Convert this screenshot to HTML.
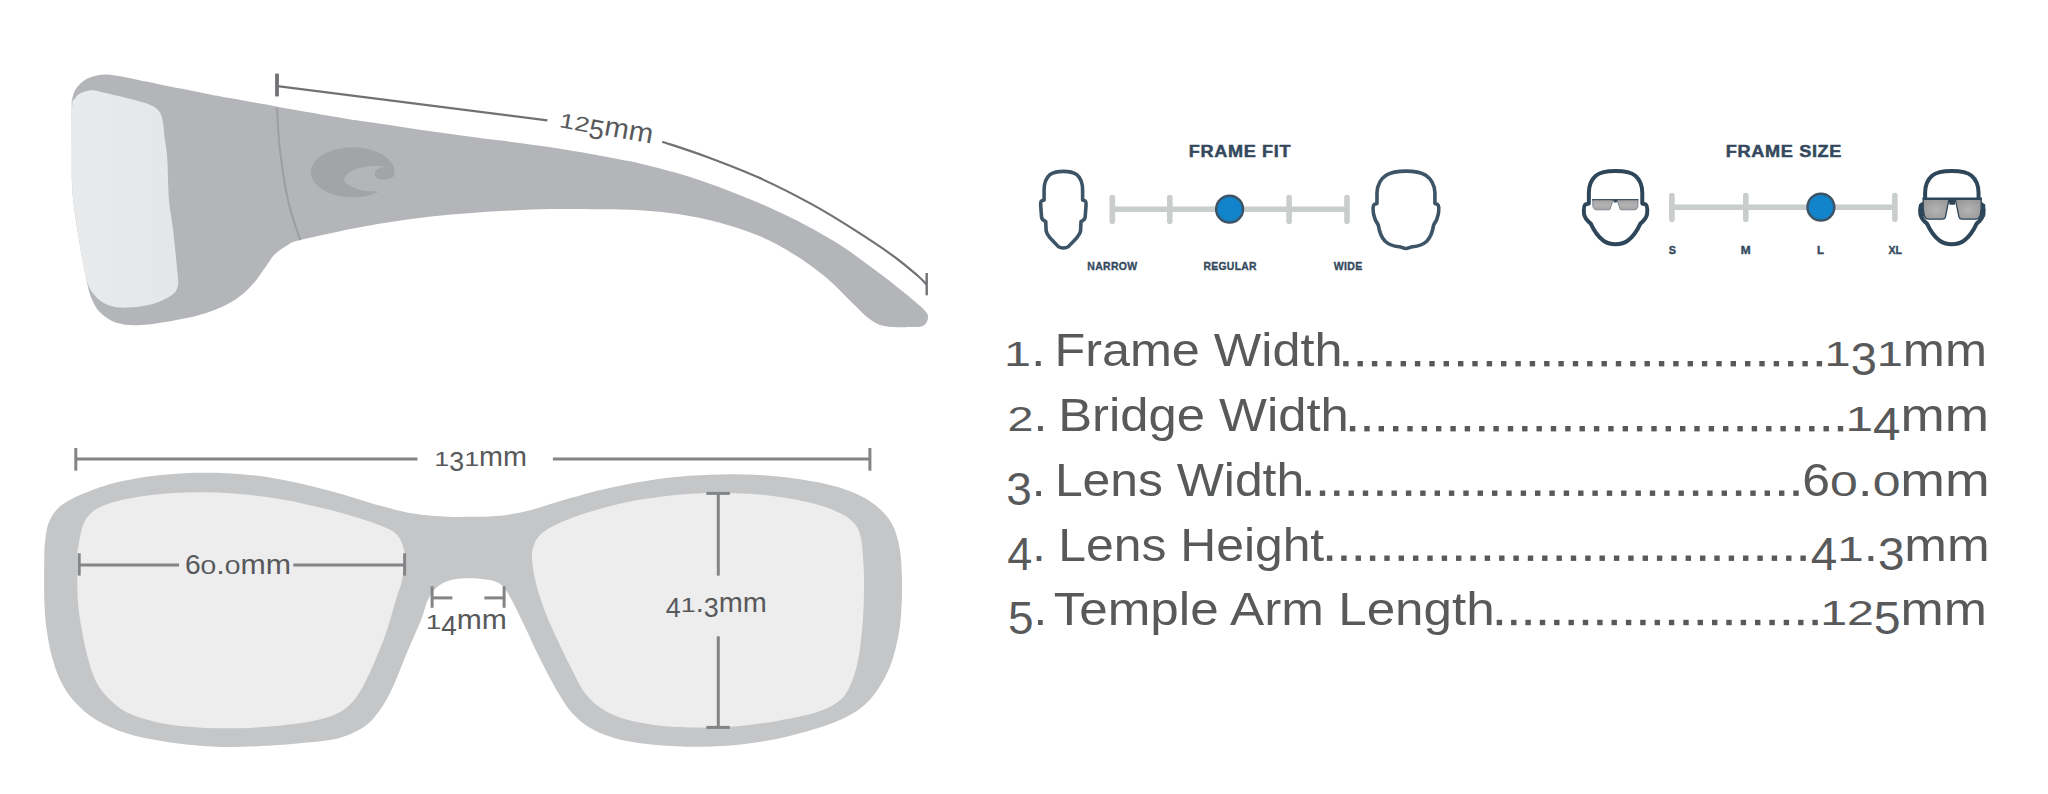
<!DOCTYPE html>
<html><head><meta charset="utf-8"><title>Frame dimensions</title>
<style>
html,body{margin:0;padding:0;background:#fff;}
body{width:2048px;height:794px;overflow:hidden;font-family:"Liberation Sans",sans-serif;}
svg{display:block;position:absolute;left:0;top:0;}
text{font-family:"Liberation Sans",sans-serif;}
</style></head><body>
<svg width="2048" height="794" viewBox="0 0 2048 794">
<defs>
<linearGradient id="lg1" x1="0" y1="0" x2="1" y2="1"><stop offset="0" stop-color="#8f9193"/><stop offset="0.55" stop-color="#b9babb"/><stop offset="1" stop-color="#97999b"/></linearGradient>
<linearGradient id="sideLens" x1="0" y1="0" x2="1" y2="0"><stop offset="0" stop-color="#e9eaeb"/><stop offset="1" stop-color="#e5e6e7"/></linearGradient>
<linearGradient id="lg2" x1="0" y1="0" x2="0" y2="1"><stop offset="0" stop-color="#a2a2a4"/><stop offset="0.55" stop-color="#b4b2b2"/><stop offset="1" stop-color="#a4a5a7"/></linearGradient>
<radialGradient id="lg3" cx="0.5" cy="0.55" r="0.75"><stop offset="0" stop-color="#b4b3b3"/><stop offset="1" stop-color="#929395"/></radialGradient>
</defs>
<rect width="2048" height="794" fill="#ffffff"/>

<!-- SIDE VIEW -->
<path d="M71.7,105.4 C71.8,96.9 71.7,101.4 72.2,99.1 C72.7,96.8 73.4,93.8 74.6,91.3 C75.8,88.8 77.4,86.5 79.5,84.4 C81.6,82.3 84.4,80.1 87.3,78.6 C90.2,77.1 93.8,76.1 97.1,75.4 C100.4,74.7 103.3,74.5 106.9,74.6 C110.5,74.7 113.4,75.2 118.6,76.1 C123.8,77.0 131.6,78.7 138.1,80.0 C144.6,81.3 150.4,82.4 157.7,83.9 C165.0,85.4 174.0,87.2 182.1,88.8 C190.2,90.4 198.4,92.1 206.5,93.7 C214.6,95.3 222.0,96.7 230.9,98.3 C239.8,99.9 252.4,102.2 260.0,103.5 C267.6,104.8 268.2,104.9 276.6,106.4 C285.0,107.9 301.4,111.0 310.3,112.6 C319.2,114.2 323.3,115.0 330.0,116.1 C336.7,117.2 342.5,118.2 350.6,119.4 C358.7,120.6 366.0,121.5 378.8,123.4 C391.6,125.3 411.4,128.4 427.7,130.8 C444.0,133.2 462.5,135.7 476.5,137.6 C490.5,139.5 499.2,140.3 511.8,142.0 C524.4,143.7 538.7,145.5 552.1,147.6 C565.5,149.7 581.1,152.3 592.4,154.3 C603.7,156.3 612.1,158.0 620.0,159.5 C627.9,161.0 629.8,161.0 639.7,163.4 C649.6,165.8 666.2,169.8 679.4,173.7 C692.6,177.6 705.8,182.1 719.0,186.9 C732.2,191.8 745.5,197.1 758.7,202.8 C771.9,208.5 785.2,214.5 798.4,221.3 C811.6,228.1 827.1,237.0 838.1,243.8 C849.1,250.6 855.8,255.9 864.6,262.3 C873.4,268.7 883.1,275.9 891.0,282.1 C898.9,288.3 906.5,294.5 912.2,299.3 C917.9,304.1 922.8,308.1 925.4,311.2 C928.0,314.3 928.2,315.5 928.0,317.8 C927.8,320.1 926.7,323.6 924.1,325.2 C921.5,326.8 918.6,326.9 912.2,327.1 C905.8,327.3 892.8,327.6 885.7,326.3 C878.6,325.0 875.1,322.8 869.8,319.2 C864.5,315.6 860.2,310.6 854.0,304.6 C847.8,298.6 839.9,289.8 832.8,283.4 C825.7,277.0 819.5,271.9 811.6,266.2 C803.7,260.5 794.0,254.1 785.2,249.0 C776.4,243.9 769.7,240.2 758.7,235.8 C747.7,231.4 732.2,226.2 719.0,222.6 C705.8,219.0 692.6,216.4 679.4,214.3 C666.2,212.2 652.9,211.0 639.7,210.2 C626.5,209.3 614.6,209.4 600.0,209.2 C585.4,209.0 566.8,208.8 552.1,209.0 C537.4,209.2 525.2,209.8 511.8,210.5 C498.4,211.2 484.9,211.9 471.5,212.9 C458.1,213.9 444.6,215.0 431.2,216.5 C417.8,218.0 404.3,219.9 390.9,222.0 C377.5,224.1 365.7,226.0 350.6,229.0 C335.5,232.0 310.6,237.5 300.2,240.1 C289.8,242.7 292.6,242.3 288.3,244.7 C284.0,247.1 278.5,250.6 274.6,254.5 C270.7,258.4 268.4,263.2 264.8,268.1 C261.2,273.0 258.0,278.6 253.1,283.8 C248.2,289.0 243.3,294.5 235.5,299.4 C227.7,304.3 217.7,309.3 206.3,313.0 C194.9,316.7 178.6,319.8 167.2,321.8 C155.8,323.8 146.4,325.0 137.9,325.2 C129.4,325.4 122.6,324.8 116.4,322.8 C110.2,320.8 104.9,316.9 100.8,313.0 C96.7,309.1 94.5,305.2 92.0,299.4 C89.5,293.6 88.5,289.7 86.1,278.0 C83.6,266.3 79.6,243.7 77.3,229.0 C75.0,214.3 73.2,203.2 72.3,190.0 C71.4,176.8 71.9,164.1 71.8,150.0 C71.7,135.9 71.6,113.9 71.7,105.4Z" fill="#b4b5b8"/>
<path d="M72.2,105.4 C72.7,96.9 73.4,101.0 74.6,99.1 C75.8,97.1 77.0,95.1 79.5,93.7 C82.0,92.3 86.0,90.9 89.3,90.5 C92.6,90.1 94.2,90.5 99.1,91.4 C104.0,92.3 112.1,94.5 118.6,96.1 C125.1,97.7 133.2,99.7 138.1,101.0 C143.0,102.3 145.0,102.8 147.9,103.9 C150.8,105.1 153.6,106.3 155.7,107.9 C157.8,109.5 159.4,111.3 160.6,113.7 C161.8,116.1 162.4,119.0 163.0,122.5 C163.6,126.0 163.6,129.1 164.3,135.0 C165.0,140.9 166.4,146.9 167.2,157.7 C168.0,168.5 168.0,188.1 169.0,200.0 C170.0,211.9 171.7,217.7 173.0,229.0 C174.3,240.3 176.2,258.6 177.0,268.0 C177.8,277.4 178.9,281.1 177.9,285.7 C176.9,290.3 175.5,292.4 171.1,295.5 C166.7,298.6 158.8,302.3 151.6,304.3 C144.4,306.3 135.3,307.5 128.1,307.6 C120.9,307.8 114.1,307.2 108.6,305.2 C103.1,303.2 98.7,300.0 94.9,295.5 C91.2,291.0 89.0,289.1 86.1,278.0 C83.2,266.9 79.6,243.7 77.3,229.0 C75.0,214.3 73.2,203.2 72.3,190.0 C71.4,176.8 71.8,164.1 71.8,150.0 C71.8,135.9 71.7,113.9 72.2,105.4Z" fill="url(#sideLens)"/>
<path d="M277.0,108.0 C277.5,115.1 278.1,134.9 280.0,150.4 C281.9,165.9 284.7,185.9 288.1,200.8 C291.5,215.8 298.2,233.6 300.2,240.1" fill="none" stroke="#9c9ea1" stroke-width="2"/>
<g id="logo">
<ellipse cx="352.7" cy="172.3" rx="42" ry="25" fill="#a2a5a7"/>
<path d="M 344.20 180.10 C 344.20 176.42 348.94 172.08 354.02 169.87 C 360.57 167.17 369.57 166.03 375.30 166.03 C 379.39 166.03 383.48 166.35 385.94 166.85 C 383.48 167.01 381.03 167.50 379.39 168.24 C 376.94 169.30 375.14 170.69 374.89 172.33 C 374.48 174.78 375.30 176.99 377.34 178.30 C 378.98 179.29 381.03 179.61 382.66 179.53 C 385.12 179.45 387.58 179.12 389.21 178.63 C 391.26 177.98 392.90 176.99 394.12 176.01 L 396.58 178.47 L 392.08 186.24 L 381.85 191.56 C 378.98 191.73 376.12 191.56 373.66 191.32 C 370.80 191.24 367.93 191.15 365.48 190.91 C 362.20 190.42 359.75 189.93 357.29 189.11 C 354.43 188.13 351.97 187.06 349.93 185.83 C 347.88 184.61 346.49 183.71 345.51 182.72 C 344.69 181.91 344.20 181.09 344.20 180.10 Z" fill="#b4b5b8"/>
</g>
<g stroke="#707174" fill="none">
<line x1="277" y1="73.6" x2="277" y2="96.4" stroke-width="3.8"/>
<line x1="277.5" y1="86.1" x2="547.4" y2="120.3" stroke-width="2.3"/>
<path d="M662.2,141.7 C669.5,144.2 689.7,150.5 705.8,156.5 C721.9,162.5 741.1,169.7 758.7,177.6 C776.3,185.5 796.2,195.7 811.6,204.1 C827.0,212.5 838.1,219.5 851.3,227.9 C864.5,236.3 880.0,246.4 891.0,254.3 C902.0,262.2 911.5,270.4 917.5,275.5 C923.5,280.6 925.2,283.2 926.7,284.8" stroke-width="2.2"/>
<line x1="926.7" y1="273" x2="926.7" y2="295.3" stroke-width="2.4"/>
</g>
<g transform="translate(560.5,127.4) rotate(10.1)" fill="#58595b"><text transform="translate(-2.08,0.00) scale(0.975,0.735)" font-size="28.0">1</text><text transform="translate(13.11,0.00) scale(0.975,0.735)" font-size="28.0">2</text><text transform="translate(28.30,5.32) scale(0.975,0.980)" font-size="28.0">5</text><text x="43.49" y="0.00" font-size="28.0" textLength="48.92" lengthAdjust="spacingAndGlyphs">mm</text>
</g>

<!-- FRONT VIEW -->
<path d="M44.3,558.9 C44.4,549.5 44.3,549.0 44.9,543.5 C45.5,538.0 46.0,531.0 47.6,525.9 C49.2,520.8 51.3,516.6 54.2,512.7 C57.1,508.9 60.1,506.1 65.2,502.8 C70.3,499.5 76.1,496.5 84.9,493.0 C93.7,489.5 105.1,485.0 117.9,482.0 C130.7,479.0 147.2,476.4 161.8,474.9 C176.5,473.3 191.2,472.7 205.8,472.7 C220.5,472.7 235.0,473.3 249.7,474.9 C264.3,476.4 279.0,479.0 293.7,482.0 C308.4,485.0 323.0,489.0 337.6,493.0 C352.2,497.0 368.8,502.6 381.6,506.1 C394.4,509.6 403.5,512.0 414.5,513.8 C425.5,515.6 438.2,516.2 447.5,516.7 C456.8,517.2 461.9,516.8 470.0,516.7 C478.1,516.6 487.2,516.9 496.4,516.0 C505.5,515.1 514.6,514.0 524.9,511.6 C535.1,509.2 545.1,505.4 557.9,501.7 C570.7,498.0 587.1,493.2 601.8,489.7 C616.4,486.2 631.1,483.2 645.8,480.9 C660.4,478.6 675.1,476.9 689.7,475.8 C704.4,474.7 719.1,474.2 733.7,474.3 C748.4,474.4 763.0,475.0 777.6,476.5 C792.2,478.0 808.8,480.4 821.6,483.1 C834.4,485.9 845.4,489.2 854.5,493.0 C863.6,496.8 870.3,501.0 876.5,506.1 C882.7,511.2 888.0,516.7 891.9,523.7 C895.8,530.7 898.0,539.5 899.6,547.9 C901.2,556.3 901.4,565.6 901.8,574.3 C902.2,583.0 902.2,591.0 901.8,600.0 C901.4,609.0 901.2,618.4 899.6,628.6 C898.0,638.9 895.4,651.6 891.9,661.5 C888.4,671.4 883.8,680.2 878.7,687.9 C873.6,695.6 868.8,701.9 861.1,707.7 C853.4,713.6 844.7,718.2 832.6,723.0 C820.5,727.8 803.2,732.7 788.6,736.2 C774.0,739.7 759.4,742.1 744.7,743.9 C730.1,745.7 715.4,746.6 700.7,746.8 C686.1,747.0 670.3,746.2 656.8,745.0 C643.2,743.8 630.0,742.1 619.4,739.5 C608.8,736.9 600.7,733.8 593.0,729.6 C585.3,725.4 579.1,720.5 573.3,714.3 C567.4,708.1 563.4,701.5 557.9,692.3 C552.4,683.1 546.2,671.0 540.3,659.3 C534.4,647.6 527.5,631.9 522.7,622.0 C517.9,612.1 514.6,605.4 511.7,600.0 C508.8,594.6 507.4,592.4 505.2,589.6 C503.0,586.8 501.5,584.6 498.6,583.0 C495.7,581.4 492.4,580.6 487.6,579.8 C482.8,579.0 475.9,578.3 470.0,578.3 C464.1,578.3 457.5,578.3 451.9,579.8 C446.3,581.3 440.5,583.9 436.5,587.4 C432.5,590.9 430.3,595.2 427.7,600.6 C425.1,606.0 424.4,611.7 421.1,620.0 C417.8,628.3 413.0,638.5 407.9,650.5 C402.8,662.5 395.9,681.3 390.4,692.3 C384.9,703.3 380.1,710.3 375.0,716.5 C369.9,722.7 365.8,726.0 359.6,729.6 C353.4,733.2 346.8,736.2 337.6,738.4 C328.5,740.6 317.5,741.5 304.7,742.8 C291.9,744.1 275.3,745.4 260.7,746.1 C246.0,746.8 231.5,747.3 216.8,746.8 C202.2,746.2 187.5,744.9 172.8,742.8 C158.2,740.7 141.7,737.8 128.9,734.0 C116.1,730.2 105.1,725.3 95.9,719.8 C86.7,714.3 79.8,707.5 73.9,701.1 C68.1,694.7 64.5,688.6 60.8,681.3 C57.1,674.0 54.4,665.9 52.0,657.1 C49.6,648.3 47.8,638.1 46.5,628.6 C45.2,619.1 44.7,611.6 44.3,600.0 C43.9,588.4 44.2,568.3 44.3,558.9Z" fill="#c5c6c8"/>
<path d="M77.2,558.9 C77.3,549.5 77.9,549.0 78.8,543.5 C79.7,538.0 81.0,530.7 82.7,525.9 C84.5,521.1 86.0,518.2 89.3,514.9 C92.6,511.6 95.9,508.8 102.5,506.1 C109.1,503.4 117.2,500.7 128.9,498.5 C140.6,496.3 158.2,494.0 172.8,493.0 C187.5,492.0 202.2,491.9 216.8,492.5 C231.5,493.1 246.0,494.4 260.7,496.3 C275.3,498.2 290.0,500.8 304.7,503.9 C319.4,507.0 335.8,511.2 348.6,514.9 C361.4,518.6 373.5,522.6 381.6,525.9 C389.7,529.2 393.4,531.0 397.0,534.7 C400.6,538.4 402.2,543.1 403.5,547.9 C404.8,552.7 405.0,557.4 404.6,563.3 C404.2,569.1 402.8,576.9 401.3,583.0 C399.9,589.1 398.4,591.7 395.9,600.0 C393.3,608.3 389.9,622.0 386.0,633.0 C382.1,644.0 377.2,656.0 372.8,665.9 C368.4,675.8 364.0,685.3 359.6,692.3 C355.2,699.3 351.9,703.5 346.4,707.7 C340.9,711.9 335.4,714.9 326.6,717.6 C317.8,720.3 306.5,722.4 293.7,724.1 C280.9,725.8 264.3,727.3 249.7,727.9 C235.0,728.5 219.7,728.5 205.8,727.9 C191.9,727.3 178.6,726.4 166.2,724.1 C153.8,721.8 140.6,718.5 131.1,714.3 C121.6,710.1 115.0,704.4 109.1,698.9 C103.2,693.4 99.5,688.3 95.9,681.3 C92.3,674.3 90.0,665.9 87.6,657.1 C85.2,648.3 83.2,638.1 81.6,628.6 C80.0,619.1 78.6,611.6 77.9,600.0 C77.2,588.4 77.1,568.3 77.2,558.9Z" fill="#ededee"/>
<path d="M532.0,556.7 C531.8,551.2 532.3,549.4 533.7,545.7 C535.1,542.0 536.3,538.4 540.3,534.7 C544.3,531.0 549.5,527.6 557.9,523.7 C566.3,519.9 578.1,515.5 590.9,511.6 C603.7,507.8 620.2,503.4 634.8,500.6 C649.4,497.8 664.8,496.0 678.7,494.7 C692.6,493.4 703.6,492.9 718.3,493.0 C732.9,493.1 751.2,493.6 766.6,495.2 C782.0,496.8 798.5,499.9 810.6,502.8 C822.7,505.7 831.8,509.2 839.1,512.7 C846.4,516.2 850.8,519.3 854.5,523.7 C858.2,528.1 859.6,531.4 861.1,539.1 C862.6,546.8 863.3,559.8 863.8,569.9 C864.2,580.0 864.1,590.2 863.8,600.0 C863.5,609.8 863.2,618.4 862.2,628.6 C861.2,638.9 859.8,652.0 857.8,661.5 C855.8,671.0 853.2,679.1 850.1,685.7 C847.0,692.3 844.6,696.7 839.1,701.1 C833.6,705.5 827.5,708.8 817.2,712.1 C807.0,715.4 791.5,718.5 777.6,720.9 C763.7,723.3 748.4,725.3 733.7,726.4 C719.1,727.5 702.5,727.7 689.7,727.5 C676.9,727.3 667.8,726.8 656.8,725.3 C645.8,723.8 633.0,721.5 623.8,718.7 C614.6,716.0 608.4,713.2 601.8,708.8 C595.2,704.4 589.4,699.1 584.3,692.3 C579.2,685.5 575.7,677.1 571.1,668.1 C566.5,659.1 560.4,646.2 556.5,638.0 C552.6,629.8 550.6,625.3 548.0,619.0 C545.4,612.7 543.2,606.7 541.0,600.0 C538.8,593.3 536.5,586.2 535.0,579.0 C533.5,571.8 532.2,562.2 532.0,556.7Z" fill="#ededee"/>
<g stroke="#838486" stroke-width="3" fill="none">
<line x1="75.8" y1="448" x2="75.8" y2="470.7"/><line x1="75.8" y1="459.1" x2="417.5" y2="459.1"/>
<line x1="552.9" y1="459.1" x2="869.9" y2="459.1"/><line x1="869.9" y1="448" x2="869.9" y2="470.7"/>
<line x1="79.2" y1="553.3" x2="79.2" y2="575.6"/><line x1="79.2" y1="564.9" x2="179" y2="564.9"/>
<line x1="293.3" y1="564.9" x2="404.6" y2="564.9"/><line x1="404.6" y1="553.3" x2="404.6" y2="575.6"/>
<line x1="432.1" y1="586.3" x2="432.1" y2="607.8"/><line x1="432.1" y1="597.9" x2="452.3" y2="597.9"/>
<line x1="484.4" y1="597.9" x2="504.1" y2="597.9"/><line x1="504.1" y1="586.3" x2="504.1" y2="607.8"/>
<line x1="706.3" y1="493.4" x2="729.8" y2="493.4"/><line x1="718.3" y1="493.4" x2="718.3" y2="575.6"/>
<line x1="718.3" y1="636.3" x2="718.3" y2="727.4"/><line x1="706.3" y1="727.4" x2="729.8" y2="727.4"/>
</g>
<g fill="#58595b">
<text transform="translate(434.37,466.00) scale(0.956,0.735)" font-size="28.0">1</text><text transform="translate(449.25,471.32) scale(0.956,0.980)" font-size="28.0">3</text><text transform="translate(464.14,466.00) scale(0.956,0.735)" font-size="28.0">1</text><text x="479.02" y="466.00" font-size="28.0" textLength="47.95" lengthAdjust="spacingAndGlyphs">mm</text>
<text transform="translate(184.89,573.50) scale(1.008,1.000)" font-size="28.0">6</text><text transform="translate(200.59,573.50) scale(1.008,0.735)" font-size="28.0">0</text><text x="216.28" y="573.50" font-size="28.0" textLength="8.43" lengthAdjust="spacingAndGlyphs">.</text><text transform="translate(224.71,573.50) scale(1.008,0.735)" font-size="28.0">0</text><text x="240.41" y="573.50" font-size="28.0" textLength="50.56" lengthAdjust="spacingAndGlyphs">mm</text>
<text transform="translate(425.67,629.20) scale(1.000,0.735)" font-size="28.0">1</text><text transform="translate(441.24,634.52) scale(1.000,0.980)" font-size="28.0">4</text><text x="456.81" y="629.20" font-size="28.0" textLength="50.15" lengthAdjust="spacingAndGlyphs">mm</text>
<text transform="translate(665.81,617.32) scale(0.960,0.980)" font-size="28.0">4</text><text transform="translate(680.76,612.00) scale(0.960,0.735)" font-size="28.0">1</text><text x="695.72" y="612.00" font-size="28.0" textLength="8.03" lengthAdjust="spacingAndGlyphs">.</text><text transform="translate(703.75,617.32) scale(0.960,0.980)" font-size="28.0">3</text><text x="718.71" y="612.00" font-size="28.0" textLength="48.17" lengthAdjust="spacingAndGlyphs">mm</text>
</g>

<!-- FRAME FIT -->
<g font-weight="bold" fill="#34495d">
<text transform="translate(1188.85,156.70) scale(1.065,1)" font-size="17.0" letter-spacing="0.60" stroke="#34495d" stroke-width="0.50" stroke-linejoin="round">FRAME FIT</text>
<text transform="translate(1725.75,156.70) scale(1.068,1)" font-size="17.0" letter-spacing="0.60" stroke="#34495d" stroke-width="0.50" stroke-linejoin="round">FRAME SIZE</text>

<text transform="translate(1087.33,270.00) scale(0.953,1)" font-size="11.0" letter-spacing="0.30" stroke="#34495d" stroke-width="0.35" stroke-linejoin="round">NARROW</text>
<text transform="translate(1203.54,270.00) scale(0.944,1)" font-size="11.0" letter-spacing="0.30" stroke="#34495d" stroke-width="0.35" stroke-linejoin="round">REGULAR</text>
<text transform="translate(1333.81,270.00) scale(0.961,1)" font-size="11.0" letter-spacing="0.30" stroke="#34495d" stroke-width="0.35" stroke-linejoin="round">WIDE</text>

<text transform="translate(1668.65,254.20) scale(0.985,1)" font-size="11.0" letter-spacing="0.00" stroke="#34495d" stroke-width="0.40" stroke-linejoin="round">S</text>
<text transform="translate(1740.77,254.20) scale(1.076,1)" font-size="11.0" letter-spacing="0.00" stroke="#34495d" stroke-width="0.40" stroke-linejoin="round">M</text>
<text transform="translate(1817.09,254.20) scale(1.041,1)" font-size="11.0" letter-spacing="0.00" stroke="#34495d" stroke-width="0.40" stroke-linejoin="round">L</text>
<text transform="translate(1888.51,254.20) scale(0.968,1)" font-size="11.0" letter-spacing="0.00" stroke="#34495d" stroke-width="0.40" stroke-linejoin="round">XL</text>

</g>
<g stroke="#c9cdcc" stroke-width="5.6" stroke-linecap="round" fill="none"><line x1="1112.3" y1="209.2" x2="1347.0" y2="209.2" stroke-linecap="butt"/><line x1="1112.3" y1="197.6" x2="1112.3" y2="221.3"/><line x1="1169.8" y1="197.6" x2="1169.8" y2="221.3"/><line x1="1289.1" y1="197.6" x2="1289.1" y2="221.3"/><line x1="1347.0" y1="197.6" x2="1347.0" y2="221.3"/></g><circle cx="1229.6" cy="209.2" r="13.4" fill="#1284cb" stroke="#3d5467" stroke-width="2.5"/>
<g stroke="#c9cdcc" stroke-width="5.6" stroke-linecap="round" fill="none"><line x1="1671.9" y1="207.2" x2="1894.9" y2="207.2" stroke-linecap="butt"/><line x1="1671.9" y1="195.6" x2="1671.9" y2="219.3"/><line x1="1745.8" y1="195.6" x2="1745.8" y2="219.3"/><line x1="1894.9" y1="195.6" x2="1894.9" y2="219.3"/></g><circle cx="1820.9" cy="207.2" r="13.4" fill="#1284cb" stroke="#3d5467" stroke-width="2.5"/>
<path d="M 1063.36 171.33 C 1058.96 171.33 1054.55 171.58 1050.14 174.48 C 1046.37 177.63 1044.10 183.92 1044.10 190.22 L 1044.10 200.04 L 1041.58 200.92 C 1040.58 201.55 1040.58 203.43 1040.70 205.32 L 1041.58 217.28 C 1041.83 219.17 1043.22 220.43 1045.74 221.69 L 1046.11 230.50 C 1046.37 233.65 1047.63 234.91 1050.14 238.06 L 1058.33 246.62 C 1060.84 248.51 1065.88 248.51 1068.40 246.62 L 1076.58 238.06 C 1079.10 234.91 1080.36 233.65 1080.61 230.50 L 1080.99 221.69 C 1083.51 220.43 1084.89 219.17 1085.14 217.28 L 1086.02 205.32 C 1086.15 203.43 1086.15 201.55 1085.14 200.92 L 1082.62 200.04 L 1082.62 190.22 C 1082.62 183.92 1080.36 177.63 1076.58 174.48 C 1072.18 171.58 1067.77 171.33 1063.36 171.33 Z" fill="none" stroke="#3d5467" stroke-width="3.6" stroke-linejoin="round"/>
<path d="M 1405.94 171.09 C 1399.02 171.09 1392.09 171.59 1386.42 175.12 C 1380.75 178.90 1377.35 185.20 1376.97 192.76 L 1376.97 203.46 L 1374.45 204.35 C 1372.81 205.35 1372.81 209.13 1373.57 214.17 C 1374.45 219.21 1376.34 222.36 1378.23 224.88 C 1379.11 230.55 1380.75 236.85 1385.16 241.26 C 1388.94 244.66 1394.61 246.30 1399.02 246.68 C 1401.79 246.93 1403.43 248.44 1405.94 248.44 C 1408.46 248.44 1410.10 246.93 1412.87 246.68 C 1417.28 246.30 1422.95 244.66 1426.73 241.26 C 1431.14 236.85 1432.78 230.55 1433.66 224.88 C 1435.55 222.36 1437.44 219.21 1438.32 214.17 C 1439.08 209.13 1439.08 205.35 1437.44 204.35 L 1434.92 203.46 L 1434.92 192.76 C 1434.54 185.20 1431.14 178.90 1425.47 175.12 C 1419.80 171.59 1412.87 171.09 1405.94 171.09 Z" fill="none" stroke="#3d5467" stroke-width="3.6" stroke-linejoin="round"/>
<path d="M 1615.57 171.09 C 1608.39 171.09 1600.83 171.59 1595.79 175.75 C 1590.75 180.16 1588.86 186.46 1588.86 192.76 L 1588.86 203.46 L 1585.71 204.35 C 1583.82 205.35 1583.57 209.13 1584.07 214.17 C 1584.83 218.58 1587.60 221.10 1590.75 223.62 C 1593.90 230.55 1598.31 236.85 1603.35 240.63 C 1606.50 243.15 1610.28 244.16 1615.57 244.16 C 1620.86 244.16 1624.64 243.15 1627.79 240.63 C 1632.83 236.85 1637.24 230.55 1640.39 223.62 C 1643.54 221.10 1646.31 218.58 1647.06 214.17 C 1647.57 209.13 1647.31 205.35 1645.43 204.35 L 1642.28 203.46 L 1642.28 192.76 C 1642.28 186.46 1640.39 180.16 1635.35 175.75 C 1630.31 171.59 1622.75 171.09 1615.57 171.09 Z" fill="none" stroke="#2e4659" stroke-width="4" stroke-linejoin="round"/>
<path d="M 1951.83 171.09 C 1944.65 171.09 1937.09 171.59 1932.05 175.75 C 1927.01 180.16 1925.12 186.46 1925.12 192.76 L 1925.12 203.46 L 1921.97 204.35 C 1920.08 205.35 1919.83 209.13 1920.33 214.17 C 1921.09 218.58 1923.86 221.10 1927.01 223.62 C 1930.16 230.55 1934.57 236.85 1939.61 240.63 C 1942.76 243.15 1946.54 244.16 1951.83 244.16 C 1957.12 244.16 1960.90 243.15 1964.05 240.63 C 1969.09 236.85 1973.50 230.55 1976.65 223.62 C 1979.80 221.10 1982.57 218.58 1983.32 214.17 C 1983.83 209.13 1983.57 205.35 1981.69 204.35 L 1978.54 203.46 L 1978.54 192.76 C 1978.54 186.46 1976.65 180.16 1971.61 175.75 C 1966.57 171.59 1959.01 171.09 1951.83 171.09 Z" fill="#fff" stroke="#2e4659" stroke-width="4" stroke-linejoin="round"/>
<!-- small glasses -->
<g stroke="#6c7882" stroke-width="0.8" stroke-linejoin="round">
<path d="M1592.6,199.5 L1613.4,199.5 L1612.8,201 L1610.1,209.2 L1609.3,209.8 L1595.6,209.8 Q1593.4,209 1592.9,206.8 Z" fill="url(#lg2)"/>
<path d="M1617.2,199.5 L1638,199.5 L1637.9,206.6 Q1637.3,209.3 1635.2,209.8 L1620.8,209.8 L1620.1,209.2 L1617.4,201 Z" fill="url(#lg2)"/>
</g>
<path d="M1592.2,199.6 L1638.4,199.6" stroke="#43525f" stroke-width="1.3" fill="none"/>
<path d="M1612.6,199.2 L1618,199.2 L1616.6,202.6 L1614,202.6 Z" fill="#3d4f5e"/>
<!-- big glasses -->
<rect x="1919.2" y="204" width="5" height="12.5" fill="#2e4659"/><rect x="1980.2" y="204" width="5" height="12.5" fill="#2e4659"/>
<g stroke="#2e4659" stroke-width="1.3" stroke-linejoin="round">
<path d="M1923.2,199.4 L1949.0,199.4 L1945.4,217.2 Q1944.8,219.0 1942.5,219.2 L1928.5,219.2 Q1925.2,218.8 1924.2,215.5 L1923.2,208 Z" fill="url(#lg3)"/>
<path d="M1981.2,199.4 L1955.4,199.4 L1959.0,217.2 Q1959.6,219.0 1961.9,219.2 L1975.9,219.2 Q1979.2,218.8 1980.2,215.5 L1981.2,208 Z" fill="url(#lg3)"/>
</g>
<path d="M1948.4,198.4 L1956,198.4 L1954.9,204.7 L1949.5,204.7 Z" fill="#2e4659"/>
<line x1="1922.4" y1="198.5" x2="1982" y2="198.5" stroke="#2e4659" stroke-width="1.9"/>

<!-- SPEC LIST -->
<g font-size="47" fill="#58595b">
<text transform="translate(1004.12,366.40) scale(1.031,0.735)" font-size="47.0">1</text><text x="1031.06" y="366.40" font-size="47.0" textLength="14.47" lengthAdjust="spacingAndGlyphs">.</text>
<text x="1054.47" y="366.40" font-size="47.0" textLength="287.95" lengthAdjust="spacingAndGlyphs">Frame Width</text>
<text transform="translate(1824.53,366.40) scale(0.999,0.735)" font-size="47.0">1</text><text transform="translate(1850.64,375.33) scale(0.999,0.980)" font-size="47.0">3</text><text transform="translate(1876.76,366.40) scale(0.999,0.735)" font-size="47.0">1</text><text x="1902.87" y="366.40" font-size="47.0" textLength="84.11" lengthAdjust="spacingAndGlyphs">mm</text>
<g fill="#58595b"><rect x="1816.7" y="361.0" width="5.4" height="5.4"/><rect x="1802.4" y="361.0" width="5.4" height="5.4"/><rect x="1788.0" y="361.0" width="5.4" height="5.4"/><rect x="1773.7" y="361.0" width="5.4" height="5.4"/><rect x="1759.3" y="361.0" width="5.4" height="5.4"/><rect x="1745.0" y="361.0" width="5.4" height="5.4"/><rect x="1730.6" y="361.0" width="5.4" height="5.4"/><rect x="1716.3" y="361.0" width="5.4" height="5.4"/><rect x="1701.9" y="361.0" width="5.4" height="5.4"/><rect x="1687.6" y="361.0" width="5.4" height="5.4"/><rect x="1673.2" y="361.0" width="5.4" height="5.4"/><rect x="1658.9" y="361.0" width="5.4" height="5.4"/><rect x="1644.5" y="361.0" width="5.4" height="5.4"/><rect x="1630.2" y="361.0" width="5.4" height="5.4"/><rect x="1615.8" y="361.0" width="5.4" height="5.4"/><rect x="1601.5" y="361.0" width="5.4" height="5.4"/><rect x="1587.1" y="361.0" width="5.4" height="5.4"/><rect x="1572.8" y="361.0" width="5.4" height="5.4"/><rect x="1558.4" y="361.0" width="5.4" height="5.4"/><rect x="1544.1" y="361.0" width="5.4" height="5.4"/><rect x="1529.7" y="361.0" width="5.4" height="5.4"/><rect x="1515.4" y="361.0" width="5.4" height="5.4"/><rect x="1501.0" y="361.0" width="5.4" height="5.4"/><rect x="1486.7" y="361.0" width="5.4" height="5.4"/><rect x="1472.3" y="361.0" width="5.4" height="5.4"/><rect x="1458.0" y="361.0" width="5.4" height="5.4"/><rect x="1443.6" y="361.0" width="5.4" height="5.4"/><rect x="1429.3" y="361.0" width="5.4" height="5.4"/><rect x="1414.9" y="361.0" width="5.4" height="5.4"/><rect x="1400.6" y="361.0" width="5.4" height="5.4"/><rect x="1386.2" y="361.0" width="5.4" height="5.4"/><rect x="1371.9" y="361.0" width="5.4" height="5.4"/><rect x="1357.5" y="361.0" width="5.4" height="5.4"/><rect x="1343.2" y="361.0" width="5.4" height="5.4"/></g>
<text transform="translate(1007.47,431.40) scale(0.993,0.735)" font-size="47.0">2</text><text x="1033.42" y="431.40" font-size="47.0" textLength="13.94" lengthAdjust="spacingAndGlyphs">.</text>
<text x="1058.24" y="431.40" font-size="47.0" textLength="290.52" lengthAdjust="spacingAndGlyphs">Bridge Width</text>
<text transform="translate(1845.44,431.40) scale(1.052,0.735)" font-size="47.0">1</text><text transform="translate(1872.93,440.33) scale(1.052,0.980)" font-size="47.0">4</text><text x="1900.42" y="431.40" font-size="47.0" textLength="88.54" lengthAdjust="spacingAndGlyphs">mm</text>
<g fill="#58595b"><rect x="1837.8" y="426.0" width="5.4" height="5.4"/><rect x="1823.5" y="426.0" width="5.4" height="5.4"/><rect x="1809.1" y="426.0" width="5.4" height="5.4"/><rect x="1794.8" y="426.0" width="5.4" height="5.4"/><rect x="1780.4" y="426.0" width="5.4" height="5.4"/><rect x="1766.1" y="426.0" width="5.4" height="5.4"/><rect x="1751.7" y="426.0" width="5.4" height="5.4"/><rect x="1737.4" y="426.0" width="5.4" height="5.4"/><rect x="1723.0" y="426.0" width="5.4" height="5.4"/><rect x="1708.7" y="426.0" width="5.4" height="5.4"/><rect x="1694.3" y="426.0" width="5.4" height="5.4"/><rect x="1680.0" y="426.0" width="5.4" height="5.4"/><rect x="1665.6" y="426.0" width="5.4" height="5.4"/><rect x="1651.3" y="426.0" width="5.4" height="5.4"/><rect x="1636.9" y="426.0" width="5.4" height="5.4"/><rect x="1622.6" y="426.0" width="5.4" height="5.4"/><rect x="1608.2" y="426.0" width="5.4" height="5.4"/><rect x="1593.9" y="426.0" width="5.4" height="5.4"/><rect x="1579.5" y="426.0" width="5.4" height="5.4"/><rect x="1565.2" y="426.0" width="5.4" height="5.4"/><rect x="1550.8" y="426.0" width="5.4" height="5.4"/><rect x="1536.5" y="426.0" width="5.4" height="5.4"/><rect x="1522.1" y="426.0" width="5.4" height="5.4"/><rect x="1507.8" y="426.0" width="5.4" height="5.4"/><rect x="1493.4" y="426.0" width="5.4" height="5.4"/><rect x="1479.1" y="426.0" width="5.4" height="5.4"/><rect x="1464.7" y="426.0" width="5.4" height="5.4"/><rect x="1450.4" y="426.0" width="5.4" height="5.4"/><rect x="1436.0" y="426.0" width="5.4" height="5.4"/><rect x="1421.7" y="426.0" width="5.4" height="5.4"/><rect x="1407.3" y="426.0" width="5.4" height="5.4"/><rect x="1393.0" y="426.0" width="5.4" height="5.4"/><rect x="1378.6" y="426.0" width="5.4" height="5.4"/><rect x="1364.3" y="426.0" width="5.4" height="5.4"/><rect x="1349.9" y="426.0" width="5.4" height="5.4"/></g>
<text transform="translate(1006.26,504.83) scale(0.976,0.980)" font-size="47.0">3</text><text x="1031.77" y="495.90" font-size="47.0" textLength="13.71" lengthAdjust="spacingAndGlyphs">.</text>
<text x="1054.91" y="495.90" font-size="47.0" textLength="249.28" lengthAdjust="spacingAndGlyphs">Lens Width</text>
<text transform="translate(1802.20,495.90) scale(1.062,1.000)" font-size="47.0">6</text><text transform="translate(1829.96,495.90) scale(1.062,0.735)" font-size="47.0">0</text><text x="1857.72" y="495.90" font-size="47.0" textLength="14.91" lengthAdjust="spacingAndGlyphs">.</text><text transform="translate(1872.63,495.90) scale(1.062,0.735)" font-size="47.0">0</text><text x="1900.38" y="495.90" font-size="47.0" textLength="89.41" lengthAdjust="spacingAndGlyphs">mm</text>
<g fill="#58595b"><rect x="1793.3" y="490.5" width="5.4" height="5.4"/><rect x="1779.0" y="490.5" width="5.4" height="5.4"/><rect x="1764.6" y="490.5" width="5.4" height="5.4"/><rect x="1750.3" y="490.5" width="5.4" height="5.4"/><rect x="1735.9" y="490.5" width="5.4" height="5.4"/><rect x="1721.6" y="490.5" width="5.4" height="5.4"/><rect x="1707.2" y="490.5" width="5.4" height="5.4"/><rect x="1692.9" y="490.5" width="5.4" height="5.4"/><rect x="1678.5" y="490.5" width="5.4" height="5.4"/><rect x="1664.2" y="490.5" width="5.4" height="5.4"/><rect x="1649.8" y="490.5" width="5.4" height="5.4"/><rect x="1635.5" y="490.5" width="5.4" height="5.4"/><rect x="1621.1" y="490.5" width="5.4" height="5.4"/><rect x="1606.8" y="490.5" width="5.4" height="5.4"/><rect x="1592.4" y="490.5" width="5.4" height="5.4"/><rect x="1578.1" y="490.5" width="5.4" height="5.4"/><rect x="1563.7" y="490.5" width="5.4" height="5.4"/><rect x="1549.4" y="490.5" width="5.4" height="5.4"/><rect x="1535.0" y="490.5" width="5.4" height="5.4"/><rect x="1520.7" y="490.5" width="5.4" height="5.4"/><rect x="1506.3" y="490.5" width="5.4" height="5.4"/><rect x="1492.0" y="490.5" width="5.4" height="5.4"/><rect x="1477.6" y="490.5" width="5.4" height="5.4"/><rect x="1463.3" y="490.5" width="5.4" height="5.4"/><rect x="1448.9" y="490.5" width="5.4" height="5.4"/><rect x="1434.6" y="490.5" width="5.4" height="5.4"/><rect x="1420.2" y="490.5" width="5.4" height="5.4"/><rect x="1405.9" y="490.5" width="5.4" height="5.4"/><rect x="1391.5" y="490.5" width="5.4" height="5.4"/><rect x="1377.2" y="490.5" width="5.4" height="5.4"/><rect x="1362.8" y="490.5" width="5.4" height="5.4"/><rect x="1348.5" y="490.5" width="5.4" height="5.4"/><rect x="1334.1" y="490.5" width="5.4" height="5.4"/><rect x="1319.8" y="490.5" width="5.4" height="5.4"/><rect x="1305.4" y="490.5" width="5.4" height="5.4"/></g>
<text transform="translate(1007.31,569.83) scale(0.955,0.980)" font-size="47.0">4</text><text x="1032.27" y="560.90" font-size="47.0" textLength="13.41" lengthAdjust="spacingAndGlyphs">.</text>
<text x="1058.31" y="560.90" font-size="47.0" textLength="265.93" lengthAdjust="spacingAndGlyphs">Lens Height</text>
<text transform="translate(1810.75,569.83) scale(1.013,0.980)" font-size="47.0">4</text><text transform="translate(1837.22,560.90) scale(1.013,0.735)" font-size="47.0">1</text><text x="1863.69" y="560.90" font-size="47.0" textLength="14.22" lengthAdjust="spacingAndGlyphs">.</text><text transform="translate(1877.91,569.83) scale(1.013,0.980)" font-size="47.0">3</text><text x="1904.37" y="560.90" font-size="47.0" textLength="85.25" lengthAdjust="spacingAndGlyphs">mm</text>
<g fill="#58595b"><rect x="1800.4" y="555.5" width="5.4" height="5.4"/><rect x="1786.1" y="555.5" width="5.4" height="5.4"/><rect x="1771.7" y="555.5" width="5.4" height="5.4"/><rect x="1757.4" y="555.5" width="5.4" height="5.4"/><rect x="1743.0" y="555.5" width="5.4" height="5.4"/><rect x="1728.7" y="555.5" width="5.4" height="5.4"/><rect x="1714.3" y="555.5" width="5.4" height="5.4"/><rect x="1700.0" y="555.5" width="5.4" height="5.4"/><rect x="1685.6" y="555.5" width="5.4" height="5.4"/><rect x="1671.3" y="555.5" width="5.4" height="5.4"/><rect x="1656.9" y="555.5" width="5.4" height="5.4"/><rect x="1642.6" y="555.5" width="5.4" height="5.4"/><rect x="1628.2" y="555.5" width="5.4" height="5.4"/><rect x="1613.9" y="555.5" width="5.4" height="5.4"/><rect x="1599.5" y="555.5" width="5.4" height="5.4"/><rect x="1585.2" y="555.5" width="5.4" height="5.4"/><rect x="1570.8" y="555.5" width="5.4" height="5.4"/><rect x="1556.5" y="555.5" width="5.4" height="5.4"/><rect x="1542.1" y="555.5" width="5.4" height="5.4"/><rect x="1527.8" y="555.5" width="5.4" height="5.4"/><rect x="1513.4" y="555.5" width="5.4" height="5.4"/><rect x="1499.1" y="555.5" width="5.4" height="5.4"/><rect x="1484.7" y="555.5" width="5.4" height="5.4"/><rect x="1470.4" y="555.5" width="5.4" height="5.4"/><rect x="1456.0" y="555.5" width="5.4" height="5.4"/><rect x="1441.7" y="555.5" width="5.4" height="5.4"/><rect x="1427.3" y="555.5" width="5.4" height="5.4"/><rect x="1413.0" y="555.5" width="5.4" height="5.4"/><rect x="1398.6" y="555.5" width="5.4" height="5.4"/><rect x="1384.3" y="555.5" width="5.4" height="5.4"/><rect x="1369.9" y="555.5" width="5.4" height="5.4"/><rect x="1355.6" y="555.5" width="5.4" height="5.4"/><rect x="1341.2" y="555.5" width="5.4" height="5.4"/><rect x="1326.9" y="555.5" width="5.4" height="5.4"/></g>
<text transform="translate(1007.96,634.13) scale(0.979,0.980)" font-size="47.0">5</text><text x="1033.55" y="625.20" font-size="47.0" textLength="13.75" lengthAdjust="spacingAndGlyphs">.</text>
<text x="1053.67" y="625.20" font-size="47.0" textLength="441.11" lengthAdjust="spacingAndGlyphs">Temple Arm Length</text>
<text transform="translate(1820.13,625.20) scale(1.027,0.735)" font-size="47.0">1</text><text transform="translate(1846.97,625.20) scale(1.027,0.735)" font-size="47.0">2</text><text transform="translate(1873.80,634.13) scale(1.027,0.980)" font-size="47.0">5</text><text x="1900.64" y="625.20" font-size="47.0" textLength="86.44" lengthAdjust="spacingAndGlyphs">mm</text>
<g fill="#58595b"><rect x="1812.4" y="619.8" width="5.4" height="5.4"/><rect x="1798.1" y="619.8" width="5.4" height="5.4"/><rect x="1783.7" y="619.8" width="5.4" height="5.4"/><rect x="1769.4" y="619.8" width="5.4" height="5.4"/><rect x="1755.0" y="619.8" width="5.4" height="5.4"/><rect x="1740.7" y="619.8" width="5.4" height="5.4"/><rect x="1726.3" y="619.8" width="5.4" height="5.4"/><rect x="1712.0" y="619.8" width="5.4" height="5.4"/><rect x="1697.6" y="619.8" width="5.4" height="5.4"/><rect x="1683.3" y="619.8" width="5.4" height="5.4"/><rect x="1668.9" y="619.8" width="5.4" height="5.4"/><rect x="1654.6" y="619.8" width="5.4" height="5.4"/><rect x="1640.2" y="619.8" width="5.4" height="5.4"/><rect x="1625.9" y="619.8" width="5.4" height="5.4"/><rect x="1611.5" y="619.8" width="5.4" height="5.4"/><rect x="1597.2" y="619.8" width="5.4" height="5.4"/><rect x="1582.8" y="619.8" width="5.4" height="5.4"/><rect x="1568.5" y="619.8" width="5.4" height="5.4"/><rect x="1554.1" y="619.8" width="5.4" height="5.4"/><rect x="1539.8" y="619.8" width="5.4" height="5.4"/><rect x="1525.4" y="619.8" width="5.4" height="5.4"/><rect x="1511.1" y="619.8" width="5.4" height="5.4"/><rect x="1496.7" y="619.8" width="5.4" height="5.4"/></g>
</g>
</svg>
</body></html>
